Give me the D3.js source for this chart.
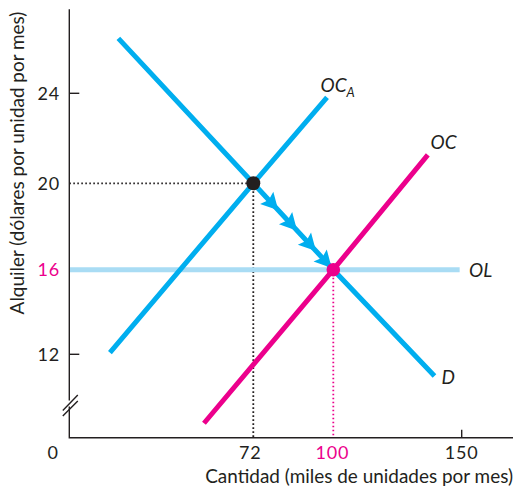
<!DOCTYPE html>
<html><head><meta charset="utf-8">
<script src="https://cdn.jsdelivr.net/npm/d3@7"></script>
<style>body{margin:0;background:#fff} svg{display:block}</style>
</head><body>
<svg id="c" width="516" height="488"></svg>
<script>
// ---- data ----
const xTickValues = [72, 100, 150];
const xTickLabels = ["72", "100", "150"];
const yTickValues = [12, 16, 20, 24];
const yTickLabels = ["12", "16", "20", "24"];
const demandD = [{x:19.2,y:26.44},{x:72,y:20},{x:100,y:16},{x:139.4,y:10.97}];
const supplyOCA = [{x:15.9,y:12.08},{x:72,y:20},{x:97.8,y:23.82}];
const supplyOC = [{x:52.7,y:8.74},{x:100,y:16},{x:136.8,y:21.26}];
const supplyOL = [{x:0,y:16},{x:149.2,y:16}];
const initialEq = {x:72, y:20};
const finalEq = {x:100, y:16};
const arrowX = [76.7, 83.3, 89.9, 95.4];

// ---- style ----
const INK = "#231f20", BLUE = "#00aeef", PINK = "#ec008c", LIGHT = "#a9dcf4";
const FONT = "Lato, 'Open Sans', sans-serif";

const svg = d3.select("#c");
const x = d3.scaleLinear().domain([0,72,100,150]).range([69.3,253.3,333.3,461.7]);
const y = d3.scaleLinear().domain([12,16,20,24]).range([354.3,269.7,183.3,93.3]);
const X0 = x(0), Y0 = 437.7;

const line = d3.line().x(d=>x(d.x)).y(d=>y(d.y));

// dotted guides
svg.append("path").attr("d", d3.line()([[X0, y(initialEq.y)],[x(initialEq.x), y(initialEq.y)],[x(initialEq.x), Y0]]))
  .attr("fill","none").attr("stroke",INK).attr("stroke-width",1.8).attr("stroke-dasharray","1.6,2.4");
svg.append("path").attr("d", d3.line()([[x(finalEq.x), y(finalEq.y)],[x(finalEq.x), Y0]]))
  .attr("fill","none").attr("stroke",PINK).attr("stroke-width",1.8).attr("stroke-dasharray","1.6,2.4");

// curves
svg.append("path").attr("d", line(supplyOL)).attr("fill","none").attr("stroke",LIGHT).attr("stroke-width",5);
svg.append("path").attr("d", line(supplyOCA)).attr("fill","none").attr("stroke",BLUE).attr("stroke-width",5);
svg.append("path").attr("d", line(demandD)).attr("fill","none").attr("stroke",BLUE).attr("stroke-width",5);
svg.append("path").attr("d", line(supplyOC)).attr("fill","none").attr("stroke",PINK).attr("stroke-width",5);

// arrows along D
const p0 = [x(initialEq.x), y(initialEq.y)], p1 = [x(finalEq.x), y(finalEq.y)];
const len = Math.hypot(p1[0]-p0[0], p1[1]-p0[1]);
const u = [(p1[0]-p0[0])/len, (p1[1]-p0[1])/len], n = [-u[1], u[0]];
arrowX.forEach(ax => {
  const ay = initialEq.y + (ax-initialEq.x)/(finalEq.x-initialEq.x)*(finalEq.y-initialEq.y);
  const b = [x(ax), y(ay)];
  const L = 17, W = 9, N = 3;
  const tip = [b[0]+u[0]*L, b[1]+u[1]*L];
  const b1 = [b[0]+n[0]*W, b[1]+n[1]*W];
  const b2 = [b[0]-n[0]*W, b[1]-n[1]*W];
  const notch = [b[0]+u[0]*N, b[1]+u[1]*N];
  svg.append("path").attr("d", `M${tip}L${b1}L${notch}L${b2}Z`).attr("fill",BLUE);
});

// points
svg.append("circle").attr("cx",x(initialEq.x)).attr("cy",y(initialEq.y)).attr("r",7).attr("fill",INK);
svg.append("circle").attr("cx",x(finalEq.x)).attr("cy",y(finalEq.y)).attr("r",6.8).attr("fill",PINK);

// axes
const ax = svg.append("g").attr("stroke",INK).attr("stroke-width",1.4).attr("fill","none");
ax.append("path").attr("d",`M${X0},9.3V400.5M${X0},406.5V${Y0}H513`);
ax.append("path").attr("d",`M${X0-6.5},410.5L${X0+8.5},395M${X0-6.5},416L${X0+8.5},401`);
[12,24].forEach(v => ax.append("path").attr("d",`M${X0},${y(v)}h10`));
ax.append("path").attr("d",`M${x(150)},${Y0}v-8`);

// tick labels
const tl = svg.append("g").attr("font-family",FONT).attr("font-size",18).attr("letter-spacing",0.8).attr("fill",INK);
yTickValues.forEach((v,i) => tl.append("text").attr("x",60).attr("y",y(v)+6.5).attr("text-anchor","end")
  .attr("fill", v===finalEq.y ? PINK : INK).text(yTickLabels[i]));
xTickValues.forEach((v,i) => tl.append("text").attr("x",x(v) - (v===initialEq.x?3:(v===finalEq.x?1:0))).attr("y",459)
  .attr("text-anchor","middle").attr("fill", v===finalEq.x ? PINK : INK).text(xTickLabels[i]));
tl.append("text").attr("x",53).attr("y",459).attr("text-anchor","middle").text("0");

// axis titles
function fit(t, w){ const l = t.node().getComputedTextLength(); const fs = +t.attr("font-size"); t.attr("font-size", fs*w/l); }
const xt = svg.append("text").attr("x",513).attr("y",483).attr("text-anchor","end").attr("font-family",FONT)
  .attr("font-size",17).attr("fill",INK).text("Cantidad (miles de unidades por mes)");
fit(xt, 308);
const yt = svg.append("text").attr("transform","translate(24,163) rotate(-90)").attr("text-anchor","middle")
  .attr("font-family",FONT).attr("font-size",17).attr("fill",INK).text("Alquiler (dólares por unidad por mes)");
fit(yt, 303);

// curve labels
const lab = svg.append("g").attr("font-family",FONT).attr("font-style","italic").attr("font-size",19).attr("fill",INK);
const oca = lab.append("text").attr("x",320.5).attr("y",91.5).text("OC");
oca.append("tspan").attr("font-size",13).attr("dy",5).text("A");
lab.append("text").attr("x",430.5).attr("y",148.5).text("OC");
lab.append("text").attr("x",469).attr("y",276.5).text("OL");
lab.append("text").attr("x",441.5).attr("y",383.5).text("D");
</script>
</body></html>
